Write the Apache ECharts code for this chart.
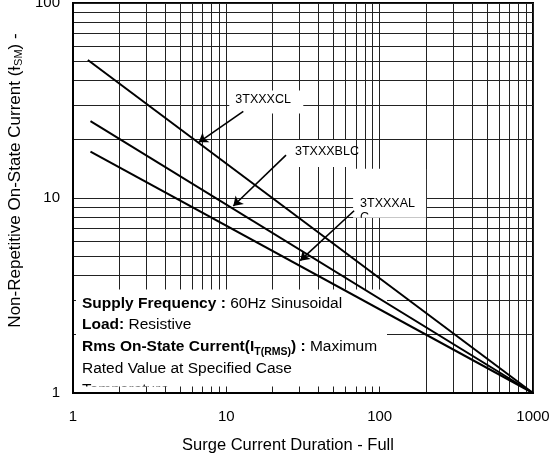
<!DOCTYPE html>
<html><head><meta charset="utf-8">
<script src="https://cdn.jsdelivr.net/npm/echarts@6.0.0/dist/echarts.min.js"></script>
<style>html,body{margin:0;padding:0;background:#fff}#c{width:554px;height:456px}</style>
</head><body><div id="c"></div>
<script>
// ---- data ----
const xTicks = [1, 10, 100, 1000];
const yTicks = [1, 10, 100];
const xMinorGrid = [2,3,4,5,6,7,8,9,20,30,40,50,60,70,80,90,200,300,400,500,600,700,800,900];
const yMinorGrid = [2,3,4,5,6,7,8,9,20,30,40,50,60,70,80,90];
const seriesNames = ['3TXXXCL', '3TXXXBLC', '3TXXXAL'];
const curveCL  = [[1.25, 51],   [1000, 1]];
const curveBLC = [[1.3, 24.8],  [1000, 1]];
const curveAL  = [[1.3, 17.3],  [1000, 1]];
// arrows: [start, tip] in data units
const arrowCL  = [[12.9, 27.8], [6.6, 19.3]];
const arrowBLC = [[24.5, 16.6], [11.1, 9.1]];
const arrowAL  = [[68.1, 8.6],  [30.3, 4.77]];
const labelTexts = ['3TXXXCL', '3TXXXBLC', '3TXXXAL\nC'];
const xName = 'Surge Current Duration - Full';
const noteText =
  '{b|Supply Frequency :} {n|60Hz Sinusoidal}\n' +
  '{b|Load:} {n|Resistive}\n' +
  '{b|Rms On-State Current(I}{bs|T(RMS)}{b|) :} {n|Maximum}\n' +
  '{n|Rated Value at Specified Case}\n' +
  '{n|Temperature}';

const FF = '"Liberation Sans", Arial, sans-serif';
const chart = echarts.init(document.getElementById('c'));

const option = {
  animation: false,
  textStyle: { fontFamily: FF },
  grid: { left: 73, right: 21, top: 3, bottom: 63, show: true, borderColor: '#000', borderWidth: 2,
          outerBoundsMode: 'none', containLabel: false },
  xAxis: {
    type: 'log', logBase: 10, min: xTicks[0], max: xTicks[xTicks.length - 1],
    axisLine: { show: true, onZero: false, lineStyle: { color: '#000', width: 2 } },
    axisTick: { show: false },
    axisLabel: { fontSize: 15, color: '#000', margin: 16, fontFamily: FF, formatter: v => String(v) },
    splitLine: { show: true, lineStyle: { color: '#222', width: 1 } },
    name: xName, nameLocation: 'middle', nameGap: 44,
    nameTextStyle: { fontSize: 16.5, color: '#000', fontFamily: FF, padding: [0, 30, 0, 0] }
  },
  yAxis: {
    type: 'log', logBase: 10, min: yTicks[0], max: yTicks[yTicks.length - 1],
    axisLine: { show: true, onZero: false, lineStyle: { color: '#000', width: 2 } },
    axisTick: { show: false },
    axisLabel: { fontSize: 15, color: '#000', margin: 13, fontFamily: FF, formatter: v => String(v) },
    splitLine: { show: true, lineStyle: { color: '#222', width: 1 } },
    name: 'Non-Repetitive On-State Current (Ɨ{s|SM}) -',
    nameLocation: 'middle', nameGap: 41,
    nameTextStyle: {
      fontSize: 17, color: '#000', fontFamily: FF, padding: [0, 0, 0, 35],
      rich: { s: { fontSize: 11, color: '#000', fontFamily: FF, padding: [6, 0, 0, 0] } }
    }
  },
  series: [
    {
      name: 'grid', type: 'line', data: [[1, 1]], showSymbol: false, symbol: 'none',
      lineStyle: { width: 0 }, z: 0, silent: true,
      markLine: {
        z: 0, silent: true, symbol: ['none', 'none'], label: { show: false },
        lineStyle: { color: '#222', width: 1, type: 'solid' },
        emphasis: { disabled: true },
        data: xMinorGrid.map(v => ({ xAxis: v })).concat(yMinorGrid.map(v => ({ yAxis: v })))
      }
    },
    { name: seriesNames[0], type: 'line', data: curveCL, showSymbol: false, symbol: 'none', z: 2,
      lineStyle: { color: '#000', width: 2 } },
    { name: seriesNames[1], type: 'line', data: curveBLC, showSymbol: false, symbol: 'none', z: 2,
      lineStyle: { color: '#000', width: 2 } },
    { name: seriesNames[2], type: 'line', data: curveAL, showSymbol: false, symbol: 'none', z: 2,
      lineStyle: { color: '#000', width: 2 } },
    {
      name: 'arrows', type: 'line', data: [[1, 1]], showSymbol: false, symbol: 'none',
      lineStyle: { width: 0 }, z: 3, silent: true,
      markLine: {
        z: 3, silent: true, symbol: ['none', 'arrow'], symbolSize: 9, label: { show: false },
        lineStyle: { color: '#000', width: 1.6, type: 'solid' },
        emphasis: { disabled: true },
        data: [arrowCL, arrowBLC, arrowAL].map(a => [{ coord: a[0] }, { coord: a[1] }])
      }
    }
  ]
};
chart.setOption(option);

// ---- annotation boxes & texts (white boxes hide the grid, like the original) ----
const zr = chart.getZr();
const G = echarts.graphic;
const px = p => chart.convertToPixel({ gridIndex: 0 }, p);

function addBox(x, y, w, h) {
  zr.add(new G.Rect({ shape: { x, y, width: w, height: h }, style: { fill: '#fff' }, z: 1, silent: true }));
}
function addText(text, x, y, style, clip) {
  const t = new G.Text({
    style: Object.assign({ text, x, y, fill: '#000', fontFamily: FF, fontSize: 12.5, verticalAlign: 'middle' }, style),
    z: 4, silent: true
  });
  if (clip) t.setClipPath(new G.Rect({ shape: clip }));
  zr.add(t);
}

// label boxes, positioned relative to arrow start points
const sCL = px(arrowCL[0]), sBLC = px(arrowBLC[0]), sAL = px(arrowAL[0]);
addBox(sCL[0] - 14, sCL[1] - 21, 74, 23);
addText(labelTexts[0], sCL[0] - 8, sCL[1] - 12, {});
addBox(sBLC[0] - 3, sBLC[1] - 15, 69, 27);
addText(labelTexts[1], sBLC[0] + 9, sBLC[1] - 4, {});
const alBox = { x: sAL[0] - 1, y: sAL[1] - 42, width: 73, height: 49 };
addBox(alBox.x, alBox.y, alBox.width, alBox.height);
addText(labelTexts[2], sAL[0] + 6, sAL[1] - 7, { verticalAlign: 'top', y: sAL[1] - 14, lineHeight: 14 }, alBox);

// note box at lower-left of plot
const o = px([xTicks[0], yTicks[0]]);
const noteBox = { x: o[0] + 3, y: o[1] - 103.5, width: 311, height: 97 };
addBox(noteBox.x, noteBox.y, noteBox.width, noteBox.height);
const LH = 21.7;
addText(noteText, o[0] + 9, o[1] - 100.5, {
  verticalAlign: 'top', fontSize: 15.5, lineHeight: LH,
  rich: {
    b: { fontWeight: 'bold', fontSize: 15.5, fontFamily: FF, fill: '#000', lineHeight: LH },
    n: { fontSize: 15.5, fontFamily: FF, fill: '#000', lineHeight: LH },
    bs: { fontWeight: 'bold', fontSize: 10.5, fontFamily: FF, fill: '#000', lineHeight: 14, verticalAlign: 'bottom' }
  }
}, noteBox);
</script>
</body></html>
